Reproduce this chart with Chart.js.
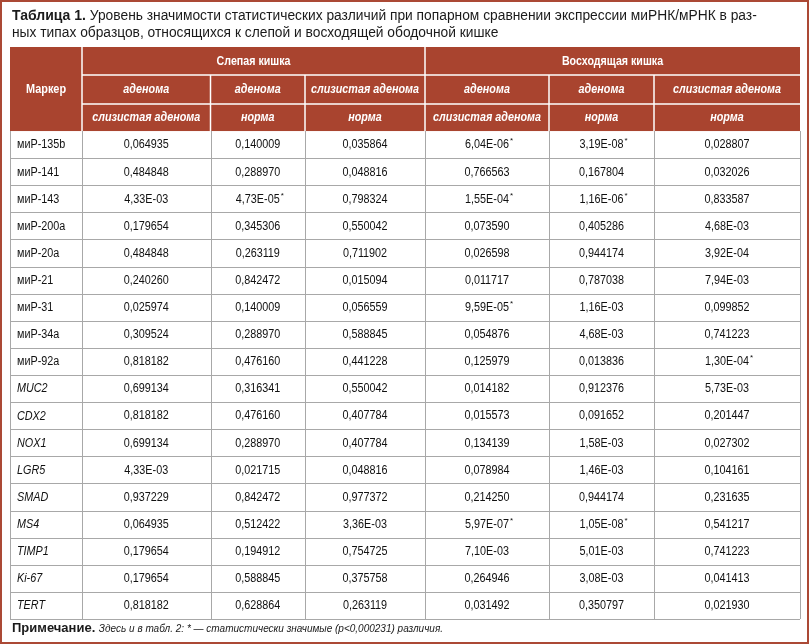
<!DOCTYPE html>
<html lang="ru">
<head>
<meta charset="utf-8">
<title>Таблица 1</title>
<script src="https://cdn.jsdelivr.net/npm/chart.js@4.4.1/dist/chart.umd.min.js"></script>
<style>
  html, body { margin: 0; padding: 0; background: #fff; }
  #wrap { position: relative; width: 809px; height: 644px; }
</style>
</head>
<body>
<div id="wrap"><canvas id="table"></canvas></div>
<script>
// Table data
const markers = ['миР-135b', 'миР-141', 'миР-143', 'миР-200a', 'миР-20a', 'миР-21', 'миР-31', 'миР-34a', 'миР-92a',
    'MUC2', 'CDX2', 'NOX1', 'LGR5', 'SMAD', 'MS4', 'TIMP1', 'Ki-67', 'TERT'];
const groups = ['Слепая кишка', 'Восходящая кишка'];
const comparisonTop = ['аденома', 'аденома', 'слизистая аденома'];
const comparisonBottom = ['слизистая аденома', 'норма', 'норма'];

// p-values, one array per column
const cecumAdenomaMucinous = [0.064935, 0.484848, 4.33e-3, 0.179654, 0.484848, 0.240260, 0.025974, 0.309524, 0.818182,
    0.699134, 0.818182, 0.699134, 4.33e-3, 0.937229, 0.064935, 0.179654, 0.179654, 0.818182];
const cecumAdenomaNorm = [0.140009, 0.288970, 4.73e-5, 0.345306, 0.263119, 0.842472, 0.140009, 0.288970, 0.476160,
    0.316341, 0.476160, 0.288970, 0.021715, 0.842472, 0.512422, 0.194912, 0.588845, 0.628864];
const cecumMucinousNorm = [0.035864, 0.048816, 0.798324, 0.550042, 0.711902, 0.015094, 0.056559, 0.588845, 0.441228,
    0.550042, 0.407784, 0.407784, 0.048816, 0.977372, 3.36e-3, 0.754725, 0.375758, 0.263119];
const ascAdenomaMucinous = [6.04e-6, 0.766563, 1.55e-4, 0.073590, 0.026598, 0.011717, 9.59e-5, 0.054876, 0.125979,
    0.014182, 0.015573, 0.134139, 0.078984, 0.214250, 5.97e-7, 7.10e-3, 0.264946, 0.031492];
const ascAdenomaNorm = [3.19e-8, 0.167804, 1.16e-6, 0.405286, 0.944174, 0.787038, 1.16e-3, 4.68e-3, 0.013836,
    0.912376, 0.091652, 1.58e-3, 1.46e-3, 0.944174, 1.05e-8, 5.01e-3, 3.08e-3, 0.350797];
const ascMucinousNorm = [0.028807, 0.032026, 0.833587, 4.68e-3, 3.92e-4, 7.94e-3, 0.099852, 0.741223, 1.30e-4,
    5.73e-3, 0.201447, 0.027302, 0.104161, 0.231635, 0.541217, 0.741223, 0.041413, 0.021930];
const significanceLevel = 0.000231;

const columns = [cecumAdenomaMucinous, cecumAdenomaNorm, cecumMucinousNorm,
    ascAdenomaMucinous, ascAdenomaNorm, ascMucinousNorm];

// Layout in scale units
const colEdges = [0, 72, 200.5, 295, 415, 539, 644, 790];
const headerRowEdges = [-3.1, -2.07, -1.0, 0];

const FAM = '"Liberation Sans", Arial, sans-serif';
const HEADER_BG = '#a9442f';
const FRAME = '#ab4935';
const GRID = '#a8a8a8';

function formatP(v) {
    if (v >= 0.01) return v.toFixed(6).replace('.', ',');
    const parts = v.toExponential(2).split('e');
    const exp = parseInt(parts[1], 10);
    return parts[0].replace('.', ',') + 'E' + (exp < 0 ? '-' : '+') + String(Math.abs(exp)).padStart(2, '0');
}

// draw text, optionally squeezed horizontally to mimic a condensed face
function txt(ctx, s, x, y, font, align, sx, color, baseline) {
    ctx.save();
    ctx.font = font;
    ctx.fillStyle = color || '#111';
    ctx.translate(x, y);
    ctx.scale(sx || 1, 1);
    ctx.textAlign = align || 'center';
    ctx.textBaseline = baseline || 'middle';
    ctx.fillText(s, 0, 0);
    const w = ctx.measureText(s).width * (sx || 1);
    ctx.restore();
    return w;
}

function line(ctx, x1, y1, x2, y2) {
    ctx.beginPath();
    ctx.moveTo(x1, y1);
    ctx.lineTo(x2, y2);
    ctx.stroke();
}

const tablePlugin = {
    id: 'tablePlugin',
    afterDraw(chart) {
        const ctx = chart.ctx;
        const xs = chart.scales.x, ys = chart.scales.y;
        const X = v => xs.getPixelForValue(v);
        const Y = v => ys.getPixelForValue(v);
        const left = X(colEdges[0]), right = X(colEdges[colEdges.length - 1]);
        const top = Y(headerRowEdges[0]), headBottom = Y(0), bottom = Y(markers.length);

        // outer frame
        ctx.save();
        ctx.strokeStyle = FRAME;
        ctx.lineWidth = 2;
        ctx.strokeRect(1, 1, chart.width - 2, chart.height - 2);
        ctx.restore();

        // caption
        const bw = txt(ctx, 'Таблица 1. ', 12, 20, 'bold 14px ' + FAM, 'left', 1, '#1a1a1a', 'alphabetic');
        txt(ctx, 'Уровень значимости статистических различий при попарном сравнении экспрессии миРНК/мРНК в раз-',
            12 + bw, 20, '14px ' + FAM, 'left', 0.985, '#1a1a1a', 'alphabetic');
        txt(ctx, 'ных типах образцов, относящихся к слепой и восходящей ободочной кишке',
            12, 37, '14px ' + FAM, 'left', 0.985, '#1a1a1a', 'alphabetic');

        // header background
        ctx.fillStyle = HEADER_BG;
        ctx.fillRect(left, top, right - left, headBottom - top);

        // header white rules
        ctx.save();
        ctx.strokeStyle = '#fff';
        ctx.lineWidth = 1.5;
        line(ctx, X(colEdges[1]), top, X(colEdges[1]), headBottom);
        line(ctx, X(colEdges[4]), top, X(colEdges[4]), headBottom);
        line(ctx, X(colEdges[1]), Y(headerRowEdges[1]), right, Y(headerRowEdges[1]));
        line(ctx, X(colEdges[1]), Y(headerRowEdges[2]), right, Y(headerRowEdges[2]));
        [2, 3, 5, 6].forEach(i => line(ctx, X(colEdges[i]), Y(headerRowEdges[1]), X(colEdges[i]), headBottom));
        ctx.restore();

        // header text
        txt(ctx, 'Маркер', (X(colEdges[0]) + X(colEdges[1])) / 2, (top + headBottom) / 2, 'bold 13px ' + FAM, 'center', 0.84, '#fff');
        groups.forEach((g, gi) => {
            const cx = (X(colEdges[1 + gi * 3]) + X(colEdges[4 + gi * 3])) / 2;
            txt(ctx, g, cx, (Y(headerRowEdges[0]) + Y(headerRowEdges[1])) / 2, 'bold 13px ' + FAM, 'center', 0.82, '#fff');
        });
        for (let c = 0; c < 6; c++) {
            const cx = (X(colEdges[c + 1]) + X(colEdges[c + 2])) / 2;
            txt(ctx, comparisonTop[c % 3], cx, (Y(headerRowEdges[1]) + Y(headerRowEdges[2])) / 2, 'italic bold 13px ' + FAM, 'center', 0.83, '#fff');
            txt(ctx, comparisonBottom[c % 3], cx, (Y(headerRowEdges[2]) + Y(headerRowEdges[3])) / 2, 'italic bold 13px ' + FAM, 'center', 0.83, '#fff');
        }

        // body grid
        ctx.save();
        ctx.strokeStyle = GRID;
        ctx.lineWidth = 1;
        for (let r = 1; r <= markers.length; r++) {
            const y = Math.round(Y(r)) + 0.5;
            line(ctx, left, y, right, y);
        }
        colEdges.forEach(e => {
            const x = Math.round(X(e)) + 0.5;
            line(ctx, x, headBottom, x, bottom);
        });
        ctx.restore();

        // body text
        markers.forEach((m, r) => {
            const cy = (Y(r) + Y(r + 1)) / 2 + 0.5;
            const italic = !m.startsWith('миР');
            txt(ctx, m, X(colEdges[0]) + 7, cy, (italic ? 'italic ' : '') + '12px ' + FAM, 'left', 0.9);
            columns.forEach((col, c) => {
                const v = col[r];
                const cx = (X(colEdges[c + 1]) + X(colEdges[c + 2])) / 2;
                const w = txt(ctx, formatP(v), cx, cy, '12px ' + FAM, 'center', 0.9);
                if (v < significanceLevel) {
                    txt(ctx, '*', cx + w / 2 + 1, cy - 4, '8px ' + FAM, 'left', 1);
                }
            });
        });

        // note
        const nw = txt(ctx, 'Примечание. ', 12, 632, 'bold 12.5px ' + FAM, 'left', 1.04, '#1a1a1a', 'alphabetic');
        txt(ctx, 'Здесь и в табл. 2: * — статистически значимые (p<0,000231) различия.',
            12 + nw, 632, 'italic 11.5px ' + FAM, 'left', 0.87, '#1a1a1a', 'alphabetic');
    }
};

const chart = new Chart(document.getElementById('table'), {
    type: 'scatter',
    data: { datasets: [] },
    options: {
        responsive: true,
        maintainAspectRatio: false,
        animation: false,
        layout: { padding: { left: 10, right: 9, top: 47, bottom: 25 } },
        plugins: { legend: { display: false }, tooltip: { enabled: false } },
        scales: {
            x: { type: 'linear', min: colEdges[0], max: colEdges[colEdges.length - 1], display: false },
            y: { type: 'linear', min: headerRowEdges[0], max: markers.length, reverse: true, display: false }
        }
    },
    plugins: [tablePlugin]
});
</script>
</body>
</html>
